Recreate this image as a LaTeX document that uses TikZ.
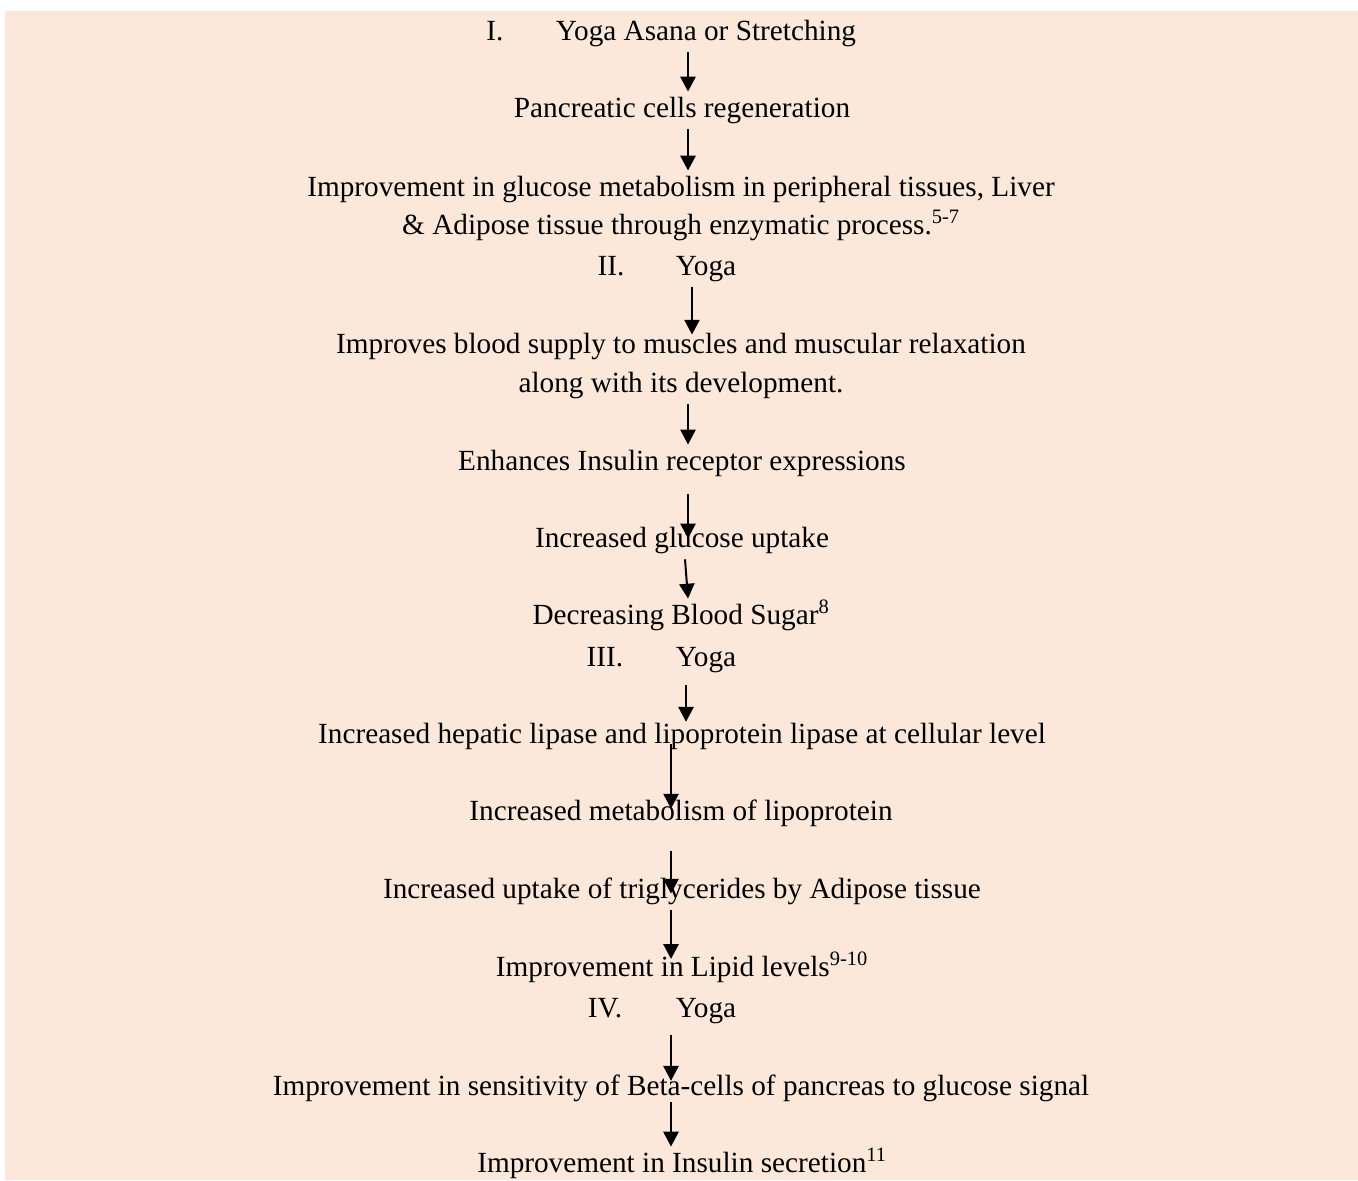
\documentclass[tikz,border=0pt]{standalone}
\usepackage{fontspec}
\setmainfont{Liberation Serif}
\usetikzlibrary{arrows.meta}
\definecolor{peach}{RGB}{252,232,218}

\begin{document}
\begin{tikzpicture}[x=0.025cm, y=-0.025cm,
    txt/.style={anchor=base, inner sep=0.15cm, text height=0.48cm, text depth=0.15cm,
        font=\fontsize{20.8}{24}\selectfont},
    arr/.style={-{Triangle[length=0.37cm, width=0.38cm]}, line width=0.05cm}]
    \useasboundingbox (0,0) rectangle (1358,1180);
    \fill[peach] (5,11) rectangle (1358,1180);

    % columns of the arrows
    \coordinate (colA) at (688,0);
    \coordinate (colB) at (692,0);
    \coordinate (colC) at (686,0);
    \coordinate (colD) at (671,0);

    % I. yoga asana
    \node[txt] (num1) at (495,40) {I.};
    \node[txt] (yoga1) at (706,40) {Yoga Asana or Stretching};
    \node[txt] (pancreas) at (682,117) {Pancreatic cells regeneration};
    \node[txt] (glucA) at (681,196) {Improvement in glucose metabolism in peripheral tissues, Liver};
    \node[txt] (glucB) at (681,234) {\& Adipose tissue through enzymatic process.\textsuperscript{5-7}};

    \draw[arr] (yoga1.south -| colA) -- (pancreas.north -| colA);
    \draw[arr] (pancreas.south -| colA) -- (glucA.north -| colA);

    % II. yoga
    \node[txt] (num2) at (611,275) {II.};
    \node[txt] (yoga2) at (706,275) {Yoga};
    \node[txt] (bloodA) at (681,353) {Improves blood supply to muscles and muscular relaxation};
    \node[txt] (bloodB) at (681,392) {along with its development.};
    \node[txt] (receptor) at (682,470) {Enhances Insulin receptor expressions};
    \node[txt] (uptake) at (682,547) {Increased glucose uptake};
    \node[txt] (sugar) at (681,624) {Decreasing Blood Sugar\textsuperscript{8}};

    \draw[arr, shorten >=-5] (yoga2.south -| colB) -- (bloodA.north -| colB);
    \draw[arr] (bloodB.south -| colA) -- (receptor.north -| colA);
    \draw[arr, shorten <=8, shorten >=-12] (receptor.south -| colA) -- (uptake.north -| colA);
    \draw[arr] ([xshift=-0.075cm]uptake.south -| colA) -- (sugar.north -| colA);

    % III. yoga
    \node[txt] (num3) at (605,666) {III.};
    \node[txt] (yoga3) at (706,666) {Yoga};
    \node[txt] (lipase) at (682,743) {Increased hepatic lipase and lipoprotein lipase at cellular level};
    \node[txt] (lipo) at (681,820) {Increased metabolism of lipoprotein};
    \node[txt] (trigly) at (682,898) {Increased uptake of triglycerides by Adipose tissue};
    \node[txt] (lipid) at (682,976) {Improvement in Lipid levels\textsuperscript{9-10}};

    \draw[arr, shorten <=5, shorten >=-3] (yoga3.south -| colC) -- (lipase.north -| colC);
    \draw[arr, shorten <=-8, shorten >=-10] (lipase.south -| colD) -- (lipo.north -| colD);
    \draw[arr, shorten <=13, shorten >=-15] (lipo.south -| colD) -- (trigly.north -| colD);
    \draw[arr, shorten >=-6] (trigly.south -| colD) -- (lipid.north -| colD);

    % IV. yoga
    \node[txt] (num4) at (605,1017) {IV.};
    \node[txt] (yoga4) at (706,1017) {Yoga};
    \node[txt] (beta) at (681,1095) {Improvement in sensitivity of Beta-cells of pancreas to glucose signal};
    \node[txt] (insulin) at (682,1172) {Improvement in Insulin secretion\textsuperscript{11}};

    \draw[arr, shorten <=4, shorten >=-8] (yoga4.south -| colD) -- (beta.north -| colD);
    \draw[arr, shorten <=-4] (beta.south -| colD) -- (insulin.north -| colD);
\end{tikzpicture}
\end{document}
